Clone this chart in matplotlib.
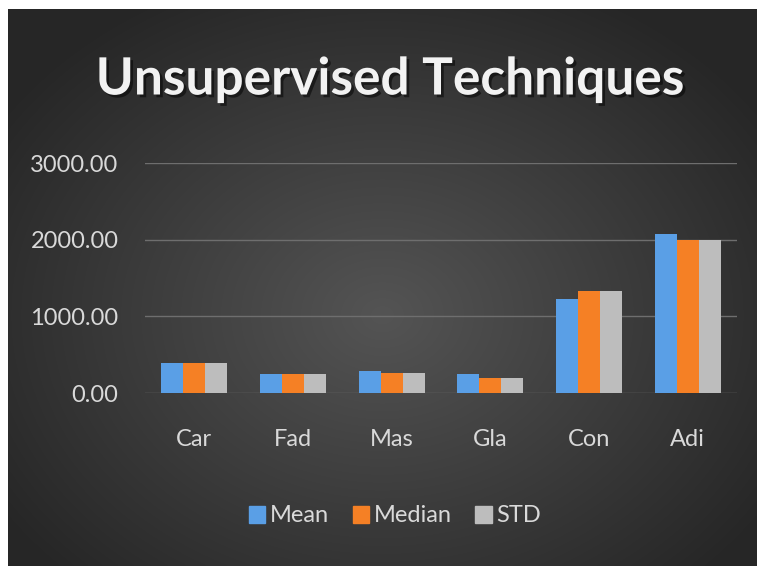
import numpy as np
import matplotlib
matplotlib.use("Agg")
import matplotlib.pyplot as plt
import matplotlib.patheffects as pe
from matplotlib.patches import Patch

categories = ["Car", "Fad", "Mas", "Gla", "Con", "Adi"]
mean_vals = [390, 245, 285, 245, 1230, 2075]
median_vals = [385, 245, 265, 195, 1325, 1990]
std_vals = [385, 245, 265, 195, 1325, 1990]
series_names = ["Mean", "Median", "STD"]
yticks = [0, 1000, 2000, 3000]
ytick_labels = ["0.00", "1000.00", "2000.00", "3000.00"]

colors = ["#5a9fe6", "#f58025", "#bdbdbd"]
W, H = 757, 566
fig = plt.figure(figsize=(W / 100, H / 100), dpi=100)
fig.patch.set_facecolor("white")

# background panel with radial gradient
bg = fig.add_axes([8 / W, 0, 1 - 8 / W, 1 - 9 / H])
bg.set_axis_off()
yy, xx = np.mgrid[0:1:300j, 0:1:400j]
r = np.sqrt(((xx - 0.5) / 0.75) ** 2 + ((yy - 0.55) / 0.8) ** 2)
g = np.clip(0.33 - 0.22 * r, 0.15, 0.33)
img = np.dstack([g, g, g])
bg.imshow(img, aspect="auto", extent=[0, 1, 0, 1], interpolation="bicubic")

ax = fig.add_axes([145 / W, 1 - 393 / H, (737 - 145) / W, (393 - 163) / H])
ax.set_facecolor("none")
x = np.arange(len(categories))
bw = 0.223
for i, (vals, c, name) in enumerate(zip([mean_vals, median_vals, std_vals], colors, series_names)):
    ax.bar(x + (i - 1) * bw, vals, width=bw, color=c, label=name, zorder=3)

ax.set_xlim(-0.5, len(categories) - 0.5)
ax.set_ylim(0, 3000)
ax.set_yticks(yticks)
ax.set_yticklabels(ytick_labels)
ax.set_xticks(x)
ax.set_xticklabels(categories)
for s in ax.spines.values():
    s.set_visible(False)
ax.grid(axis="y", color="#6e6e6e", linewidth=1.0, zorder=0)
ax.tick_params(axis="both", length=0, colors="#d9d9d9", labelsize=17)
ax.tick_params(axis="y", pad=19)
ax.tick_params(axis="x", pad=26)
for lab in ax.get_xticklabels() + ax.get_yticklabels():
    lab.set_fontfamily("Lato")
    lab.set_color("#d9d9d9")

fig.text(390 / W, 1 - 80 / H, "Unsupervised Techniques", ha="center", va="center",
         fontsize=37, fontweight="bold", fontfamily="Lato", color="#f2f2f2",
         path_effects=[pe.withSimplePatchShadow(offset=(2, -2), shadow_rgbFace="black", alpha=0.5)])

handles = [Patch(color=c, label=n) for c, n in zip(colors, series_names)]
leg = fig.legend(handles=handles, loc="center", bbox_to_anchor=(395 / W, 1 - 516 / H), ncol=3,
                 frameon=False, handlelength=0.7, handleheight=0.7,
                 handletextpad=0.2, columnspacing=1.0, prop={"family": "Lato", "size": 17})
for t in leg.get_texts():
    t.set_color("#d9d9d9")

fig.savefig("out.png", dpi=100)
